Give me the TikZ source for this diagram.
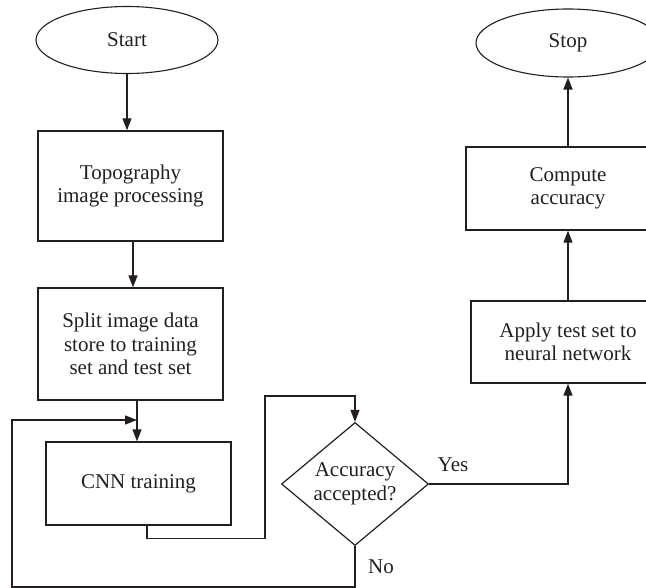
\documentclass[tikz,border=0pt]{standalone}
\usepackage{fontspec}
\setmainfont{Liberation Serif}
\usetikzlibrary{shapes.geometric,arrows.meta}
\definecolor{ink}{HTML}{231F20}
\begin{document}
\begin{tikzpicture}[x=1pt,y=-1pt,
  every node/.style={text=ink,font=\fontsize{21}{23.5}\selectfont},
  boxnode/.style={draw=ink,line width=1.3pt,rectangle,inner sep=0pt,align=center},
  ovalnode/.style={draw=ink,line width=1.1pt,ellipse,inner sep=0pt},
  flow/.style={draw=ink,line width=1.3pt,-{Triangle[length=12pt,width=9pt]}},
  plain/.style={draw=ink,line width=1.3pt}]
\useasboundingbox (0,0) rectangle (646,588);
\clip (0,0) rectangle (646,588);
% nodes
\node[ovalnode,minimum width=182pt,minimum height=67pt] (start) at (127,40) {Start};
\node[ovalnode,minimum width=184pt,minimum height=68pt] (stop) at (568,43) {Stop};
\node[boxnode,minimum width=185pt,minimum height=110pt] (topo) at (130.5,186) {Topography\\image processing};
\node[boxnode,minimum width=185pt,minimum height=112pt] (split) at (130.5,344) {Split image data\\store to training\\set and test set};
\node[boxnode,minimum width=185pt,minimum height=83pt] (cnn) at (138.5,483.5) {CNN training};
\node[diamond,draw=ink,line width=1.2pt,inner sep=0pt,minimum width=147pt,minimum height=123pt] (dia) at (355,484) {};
\node[align=center] (diatext) at (355,484) {Accuracy\\accepted?};
\node[boxnode,minimum width=194pt,minimum height=82pt] (apply) at (568,342) {Apply test set to\\neural network};
\node[boxnode,minimum width=204pt,minimum height=83pt] (compute) at (568,188.5) {Compute\\accuracy};
\node (yes) at (453,465) {Yes};
\node (no) at (381,567) {No};
% helper coordinates
\coordinate (lp) at (265,396);
\coordinate (bl) at (12,587);
\coordinate (merge) at (137,420);
% connectors
\draw[flow] (start.south) -- (start.south |- topo.north);
\draw[flow] ([xshift=2.5pt]topo.south) -- ([xshift=2.5pt]split.north);
\draw[flow] ([xshift=6.5pt]split.south) -- ([xshift=6.5pt]split.south |- cnn.north);
\draw[flow] ([xshift=8.5pt]cnn.south) -- ++(0,13) -| (lp) -| (dia.north);
\draw[flow] (dia.east) -| (apply.south);
\draw[flow] (dia.south) |- (bl) |- (merge);
\draw[flow] (apply.north) -- (compute.south);
\draw[flow] (compute.north) -- (stop.south);
\end{tikzpicture}
\end{document}
